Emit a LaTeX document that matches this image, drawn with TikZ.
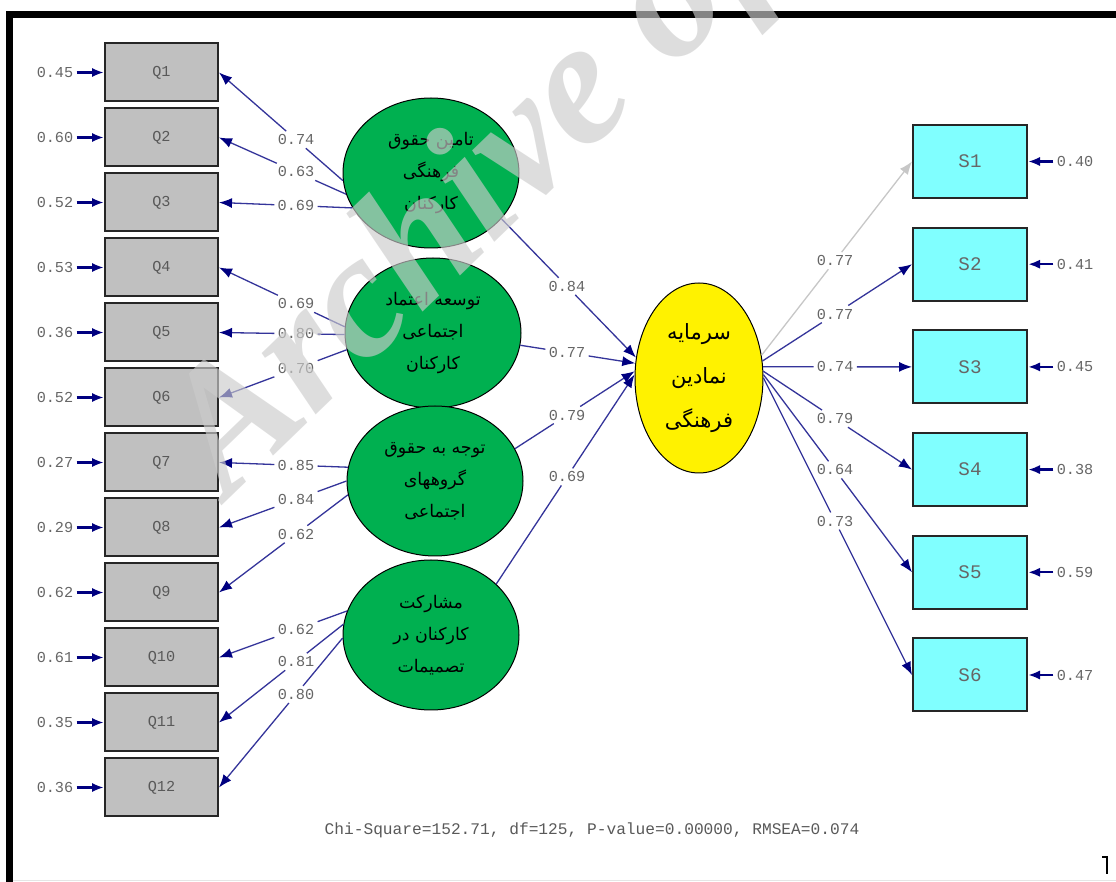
\documentclass[tikz,border=0pt]{standalone}
\usepackage{fontspec}
\usetikzlibrary{arrows.meta,shapes.geometric,calc}
\TeXXeTstate=1
\newfontfamily\fa[Script=Arabic]{DejaVu Sans}
\newfontfamily\mono{Liberation Mono}
\newfontfamily\wmfont{Liberation Serif}
\newcommand{\rtl}[1]{\beginR#1\endR}
\definecolor{lnc}{HTML}{34349A}
\definecolor{arrc}{HTML}{000080}
\definecolor{lblc}{HTML}{666666}
\definecolor{grn}{HTML}{00B050}
\definecolor{cyn}{HTML}{80FFFF}
\definecolor{qg}{HTML}{C0C0C0}
\tikzset{
  qbox/.style={draw=black!85, line width=1pt, fill=qg, minimum width=56.5pt, minimum height=29pt, inner sep=0pt, text=black!65, font=\mono\fontsize{7.6}{9}\selectfont},
  sbox/.style={draw=black!85, line width=1pt, fill=cyn, minimum width=57pt, minimum height=36.5pt, inner sep=0pt, text=black!60, font=\mono\fontsize{9.6}{11}\selectfont},
  lat/.style={ellipse, draw=black, line width=0.5pt, fill=grn, minimum width=88pt, minimum height=75pt, inner sep=0pt, align=center, font=\fa\fontsize{8.7}{16}\selectfont},
  ylat/.style={ellipse, draw=black, line width=0.5pt, fill=yellow, minimum width=64pt, minimum height=95pt, inner sep=0pt, align=center, font=\fa\fontsize{10.5}{22}\selectfont},
  lbl/.style={text=lblc, font=\mono\fontsize{7.6}{9}\selectfont, inner sep=1.5pt},
  ln/.style={draw=lnc, line width=0.65pt},
  lna/.style={ln, -{Latex[length=6.5pt,width=5pt,color=arrc]}},
  lngray/.style={draw=black!22, line width=0.65pt},
  lngraya/.style={lngray, -{Latex[length=6.5pt,width=5pt]}},
  errarr/.style={draw=arrc, line width=1.2pt, -{Latex[length=6pt,width=4.6pt]}},
}
\begin{document}
\begin{tikzpicture}[x=0.5pt, y=-0.5pt]
\useasboundingbox (0,0) rectangle (1116,882);
\fill[white] (0,0) rectangle (1116,882);
% frame
\fill[black] (6,11) rectangle (1116,18);
\fill[black] (6,11) rectangle (13,882);
\draw[black!10, line width=0.5pt] (13,880.5) -- (1116,880.5);
\draw[black, line width=1pt] (1102,857) -- (1107,857) -- (1107,874);

% helper vertical lines for label positions
\coordinate (vL1) at (296,0);  \coordinate (vL2) at (296,900);
\coordinate (vM1) at (567,0);  \coordinate (vM2) at (567,900);
\coordinate (vR1) at (835,0);  \coordinate (vR2) at (835,900);

% observed Q boxes
\foreach \i/\er in {1/0.45,2/0.60,3/0.52,4/0.53,5/0.36,6/0.52,7/0.27,8/0.29,9/0.62,10/0.61,11/0.35,12/0.36}{
  \node[qbox] (Q\i) at (161.5,{72.5+65*(\i-1)}) {Q\i};
  \node[lbl] (eQ\i) at (55,{72.5+65*(\i-1)}) {\er};
  \draw[errarr] (eQ\i) -- (Q\i.west);
}

% latent ellipses
\node[lat] (E1) at (431,173) {\rtl{تامین حقوق}\\\rtl{فرهنگی}\\\rtl{کارکنان}};
\node[lat] (E2) at (433,333) {\rtl{توسعه اعتماد}\\\rtl{اجتماعی}\\\rtl{کارکنان}};
\node[lat] (E3) at (435,481) {\rtl{توجه به حقوق}\\\rtl{گروههای}\\\rtl{اجتماعی}};
\node[lat] (E4) at (431,635) {\rtl{مشارکت}\\\rtl{کارکنان در}\\\rtl{تصمیمات}};
\node[ylat] (Y) at (699,378) {\rtl{سرمایه}\\\rtl{نمادین}\\\rtl{فرهنگی}};

% S boxes
\foreach \i/\er in {1/0.40,2/0.41,3/0.45,4/0.38,5/0.59,6/0.47}{
  \node[sbox] (S\i) at (970,{161.5+102.7*(\i-1)}) {S\i};
  \node[lbl] (eS\i) at (1075,{161.5+102.7*(\i-1)}) {\er};
  \draw[errarr] (eS\i) -- (S\i.east);
}

% loadings latent -> Q
\foreach \q/\e/\a/\v in {1/E1/185/0.74,2/E1/194/0.63,3/E1/204/0.69,
                          4/E2/176/0.69,5/E2/181/0.80,6/E2/191/0.70,
                          7/E3/171/0.85,8/E3/180/0.84,9/E3/189/0.62,
                          10/E4/164/0.62,11/E4/173/0.81,12/E4/182/0.80}{
  \node[lbl] (lQ\q) at (intersection cs: first line={(\e.\a)--(Q\q.east)}, second line={(vL1)--(vL2)}) {\v};
  \draw[ln] (\e.\a) -- (lQ\q);
  \draw[lna] (lQ\q) -- (Q\q.east);
}

% structural paths latent -> Y
\foreach \e/\a/\b/\v in {E1/327/162/0.84,E2/352/167/0.77,E3/22/174/0.79,E4/38/177/0.69}{
  \node[lbl] (lY\e) at (intersection cs: first line={(\e.\a)--(Y.\b)}, second line={(vM1)--(vM2)}) {\v};
  \draw[ln] (\e.\a) -- (lY\e);
  \draw[lna] (lY\e) -- (Y.\b);
}

% Y -> S
\node[lbl] (lS1) at (intersection cs: first line={(Y.20)--(S1.west)}, second line={(vR1)--(vR2)}) {0.77};
\draw[lngray] (Y.20) -- (lS1);
\draw[lngraya] (lS1) -- (S1.west);
\foreach \s/\a/\v in {2/15/0.77,3/10/0.74,4/6/0.79,5/3/0.64,6/0/0.73}{
  \node[lbl] (lS\s) at (intersection cs: first line={(Y.\a)--(S\s.west)}, second line={(vR1)--(vR2)}) {\v};
  \draw[ln] (Y.\a) -- (lS\s);
  \draw[lna] (lS\s) -- (S\s.west);
}

% fit statistics
\node[text=black!65, font=\mono\fontsize{8.1}{10}\selectfont] (fitstat) at (592,830) {Chi-Square=152.71, df=125, P-value=0.00000, RMSEA=0.074};

% watermark
\begin{scope}
\clip (0,0) rectangle (1116,882);
\node[rotate=44, anchor=base west, text=black!20, text opacity=0.65, inner sep=0pt,
      font=\wmfont\bfseries\itshape\fontsize{89}{89}\selectfont] (wm) at (228,500) {Archive of};
\end{scope}
\end{tikzpicture}
\end{document}
